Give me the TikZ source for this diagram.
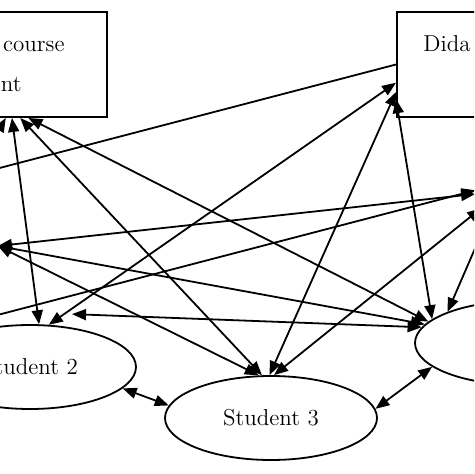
\documentclass[tikz,border=0pt]{standalone}
\usepackage{tikz}
\usetikzlibrary{arrows.meta,shapes.geometric,calc}

\begin{document}
\begin{tikzpicture}[x=0.5pt,y=-0.5pt,
  >={Triangle[length=7pt,width=5.5pt]},
  every node/.style={font=\fontsize{11.5}{14}\selectfont},
  box/.style={draw,line width=1pt,minimum width=128.5pt,minimum height=52.5pt,inner sep=0pt},
  boxtext/.style={inner sep=0pt},
  pupil/.style={draw,ellipse,line width=0.9pt,minimum width=106pt,minimum height=42pt,inner sep=0pt},
  link/.style={<->,line width=0.9pt}]

\useasboundingbox (0,0) rectangle (474,474);
\clip (0,0) rectangle (474,474);

\node[box] (lbox) at (-21.5,64.5) {};
\node[box] (rbox) at (525.5,64.5) {};

\node[boxtext,anchor=base east] (lboxa) at (65,52) {course};
\node[boxtext,anchor=base east] (lboxb) at (22,92) {ent};
\node[boxtext,anchor=base west] (rboxa) at (423,52) {Dida};

\node[pupil] (s1) at (-109,246) {};
\node[pupil] (s2) at (30,367) {Student 2};
\node[pupil] (s3) at (271,418) {Student 3};
\node[pupil] (s4) at (521,343) {};
\node[pupil] (s5) at (582,194) {};

\coordinate (c1) at (-100,194);
\coordinate (c2) at (-60,330);

\draw[link] (lbox.-58) -- (s2.78);
\draw[link] (lbox.-52) -- (s3.102);
\draw[link] (lbox.-47) -- (s4.167);
\draw[link] (lbox.-63) -- (s1.30);

\draw[line width=0.9pt] (c1) -- (rbox.west);
\draw[link] (s2.66) -- (rbox.188);
\draw[link] (s3.92) -- (rbox.192);
\draw[link] (rbox.195) -- (s4.165);

\draw[link] (s1.east) -- (s5.180);
\draw[link] (s1.east) -- (s4.169);
\draw[link] (s1.east) -- (s3.106);
\draw[link] (c2) -- (s5.178);

\draw[link] ($(s2.north)+(42,-10)$) -- (s4.171);
\draw[link] (s5.188) -- (s3.86);
\draw[link] (s5.193) -- (s4.157);

\draw[link] (s2.-13) -- (s3.173);
\draw[link] (s3.5) -- (s4.195);

\end{tikzpicture}
\end{document}
